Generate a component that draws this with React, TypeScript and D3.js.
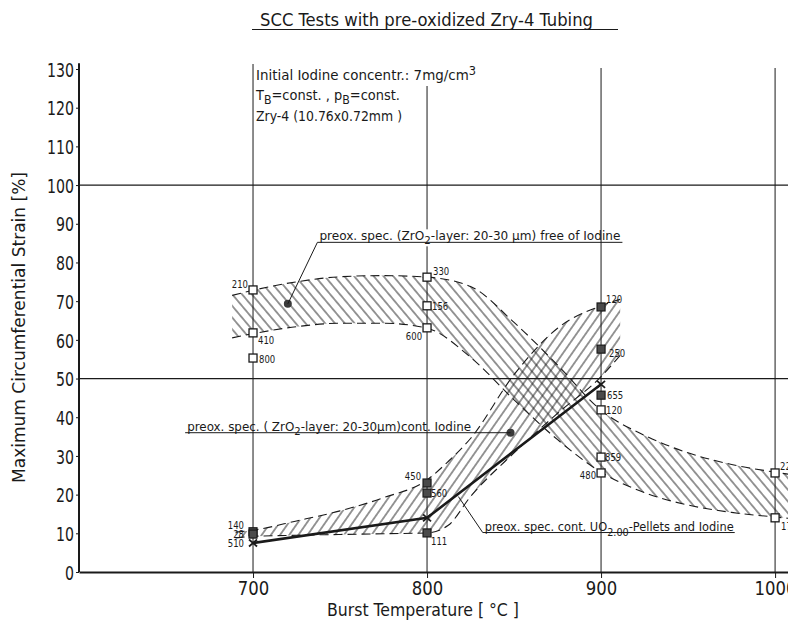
import * as d3 from "d3"
import { useEffect, useRef } from "react"

const W = 788
const H = 625

// open squares: pre-oxidized specimens, free of iodine (label = time to burst)
const freeTemp = [700, 700, 700, 800, 800, 800, 900, 900, 900, 1000, 1000]
const freeStrain = [72.9, 61.8, 55.3, 76.2, 68.8, 63.1, 41.9, 29.7, 25.6, 25.6, 14]
const freeTime = ["210", "410", "800", "330", "156", "600", "120", "859", "480", "22", "17"]

// filled squares: pre-oxidized specimens containing iodine
const iodTemp = [700, 700, 800, 800, 800, 900, 900, 900]
const iodStrain = [10.4, 9.8, 23, 20.4, 10.1, 68.5, 57.6, 45.7]
const iodTime = ["140", "28", "450", "560", "111", "120", "250", "655"]

// crosses: UO2 pellets and iodine
const uoTemp = [700, 800, 900]
const uoStrain = [7.5, 14, 48.5]
const uoTime = ["510", "", ""]

// scatter band, free of iodine
const freeBandTemp = [688, 700, 725, 750, 775, 800, 825, 850, 875, 900, 925, 950, 975, 1000, 1012]
const freeBandUpper = [71.5, 72.8, 75, 76.3, 76.6, 76.2, 73.8, 64.5, 53.5, 41.8, 35.3, 30.8, 27.8, 25.8, 25]
const freeBandLower = [60.5, 61.6, 63.4, 64.3, 64.3, 63, 55.5, 44.5, 34.2, 25.8, 20.5, 17.3, 15.4, 14.2, 13.7]

// scatter band, containing iodine
const iodBandTemp = [690, 700, 725, 750, 775, 800, 812, 825, 850, 875, 900, 911]
const iodBandUpper = [10.3, 10.8, 13.2, 15.8, 19.2, 23.8, 28.5, 34.5, 51, 63, 68.8, 70.5]
const iodBandLower = [8.8, 9.2, 9.5, 9.7, 9.9, 10.1, 12, 19.5, 30.8, 41, 50.5, 56]

// marker points of the band notes
const freeNotePoint = [720, 69.3]
const iodNotePoint = [848, 36]

const yTicks = [0, 10, 20, 30, 40, 50, 60, 70, 80, 90, 100, 110, 120, 130]
const xTicks = [700, 800, 900, 1000]
const hLines = [100, 50]

// label offsets (dx, dy, anchor), kept apart from the data
const freeLabelPos: [number, number, string][] = [
  [-5, -2, "end"], [5, 11, "start"], [6, 5, "start"], [6, -2, "start"], [5, 4, "start"],
  [-5, 12, "end"], [5, 4, "start"], [4, 4, "start"], [-5, 6, "end"], [5, -3, "start"], [6, 12, "start"],
]
const iodLabelPos: [number, number, string][] = [
  [-9, -3, "end"], [-9, 4, "end"], [-6, -3, "end"], [4, 4, "start"], [4, 12, "start"],
  [5, -4, "start"], [8, 8, "start"], [6, 4, "start"],
]
const uoLabelPos: [number, number, string][] = [[-9, 4, "end"], [0, 0, "start"], [0, 0, "start"]]

type Part = { t: string; shift?: number }

const Chart = () => {
  const ref = useRef<SVGSVGElement>(null)

  useEffect(() => {
    const svg = d3.select(ref.current)
    svg.selectAll("*").remove()

    const font = "'Liberation Sans Narrow', 'DejaVu Sans Condensed', 'DejaVu Sans', sans-serif"
    const ink = "#1a1a1a"

    const x = d3.scaleLinear().domain([600, 1008]).range([79, 789])
    const y = d3.scaleLinear().domain([0, 130]).range([572, 69])

    svg.attr("width", W).attr("height", H).style("font-family", font)
    svg.append("rect").attr("width", W).attr("height", H).attr("fill", "#fff")

    const defs = svg.append("defs")
    const hatch = (id: string, angle: number) => {
      const p = defs
        .append("pattern")
        .attr("id", id)
        .attr("patternUnits", "userSpaceOnUse")
        .attr("width", 7.5)
        .attr("height", 7.5)
        .attr("patternTransform", `rotate(${angle})`)
      p.append("line")
        .attr("x1", 3.75)
        .attr("y1", 0)
        .attr("x2", 3.75)
        .attr("y2", 7.5)
        .attr("stroke", ink)
        .attr("stroke-width", 0.9)
    }
    hatch("hatchFree", -40)
    hatch("hatchIod", 35)

    const addText = (parts: Part[], px: number, py: number, size: number, len?: number) => {
      const t = svg
        .append("text")
        .attr("x", px)
        .attr("y", py)
        .attr("font-size", size)
        .attr("fill", ink)
      let cur = 0
      parts.forEach((p) => {
        const s = p.shift ?? 0
        t.append("tspan")
          .attr("dy", s - cur)
          .attr("font-size", s ? size * 0.85 : size)
          .text(p.t)
        cur = s
      })
      if (len) t.attr("textLength", len).attr("lengthAdjust", "spacingAndGlyphs")
      return t
    }
    const rule = (x1: number, y1: number, x2: number, y2: number, w = 1) =>
      svg
        .append("line")
        .attr("x1", x1)
        .attr("y1", y1)
        .attr("x2", x2)
        .attr("y2", y2)
        .attr("stroke", ink)
        .attr("stroke-width", w)

    // grid
    const gridTop: Record<number, number> = { 700: 64, 800: 86, 900: 68, 1000: 68 }
    xTicks.forEach((t) => rule(x(t), gridTop[t], x(t), y(0), 1))
    hLines.forEach((v) => rule(x(600), y(v), W, y(v), 1.2))

    // bands
    const area = (temps: number[], up: number[], lo: number[]) =>
      d3
        .area<number>()
        .x((d) => x(d))
        .y0((_, i) => y(lo[i]))
        .y1((_, i) => y(up[i]))
        .curve(d3.curveMonotoneX)(temps)
    const edge = (temps: number[], vals: number[]) =>
      d3
        .line<number>()
        .x((d) => x(d))
        .y((_, i) => y(vals[i]))
        .curve(d3.curveMonotoneX)(temps)

    svg.append("path").attr("d", area(freeBandTemp, freeBandUpper, freeBandLower)).attr("fill", "url(#hatchFree)")
    svg.append("path").attr("d", area(iodBandTemp, iodBandUpper, iodBandLower)).attr("fill", "url(#hatchIod)")
    ;[
      edge(freeBandTemp, freeBandUpper),
      edge(freeBandTemp, freeBandLower),
      edge(iodBandTemp, iodBandUpper),
      edge(iodBandTemp, iodBandLower),
    ].forEach((d) =>
      svg
        .append("path")
        .attr("d", d)
        .attr("fill", "none")
        .attr("stroke", ink)
        .attr("stroke-width", 1.1)
        .attr("stroke-dasharray", "9 5")
    )

    // UO2 line
    svg
      .append("path")
      .attr(
        "d",
        d3
          .line<number>()
          .x((d) => x(d))
          .y((_, i) => y(uoStrain[i]))(uoTemp)
      )
      .attr("fill", "none")
      .attr("stroke", ink)
      .attr("stroke-width", 2.6)

    const ptLabel = (px: number, py: number, pos: [number, number, string], s: string) => {
      if (!s) return
      svg
        .append("text")
        .attr("x", px + pos[0])
        .attr("y", py + pos[1])
        .attr("text-anchor", pos[2])
        .attr("font-size", 11)
        .attr("fill", ink)
        .attr("textLength", s.length * 5.4)
        .attr("lengthAdjust", "spacingAndGlyphs")
        .text(s)
    }

    // open squares
    freeTemp.forEach((t, i) => {
      const px = x(t)
      const py = y(freeStrain[i])
      svg
        .append("rect")
        .attr("x", px - 4)
        .attr("y", py - 4)
        .attr("width", 8)
        .attr("height", 8)
        .attr("fill", "#fff")
        .attr("stroke", ink)
        .attr("stroke-width", 1.3)
      ptLabel(px, py, freeLabelPos[i], freeTime[i])
    })

    // filled squares
    iodTemp.forEach((t, i) => {
      const px = x(t)
      const py = y(iodStrain[i])
      svg
        .append("rect")
        .attr("x", px - 4)
        .attr("y", py - 4)
        .attr("width", 8)
        .attr("height", 8)
        .attr("fill", "#4a4a4a")
        .attr("stroke", ink)
        .attr("stroke-width", 1.2)
      ptLabel(px, py, iodLabelPos[i], iodTime[i])
    })

    // crosses
    uoTemp.forEach((t, i) => {
      const px = x(t)
      const py = y(uoStrain[i])
      rule(px - 4, py - 3.5, px + 4, py + 3.5, 1.8)
      rule(px - 4, py + 3.5, px + 4, py - 3.5, 1.8)
      ptLabel(px, py, uoLabelPos[i], uoTime[i])
    })

    // band notes
    const fc = [x(freeNotePoint[0]), y(freeNotePoint[1])]
    svg.append("circle").attr("cx", fc[0]).attr("cy", fc[1]).attr("r", 4).attr("fill", "#3a3a3a")
    const fx = x(737)
    const fy = y(85.2)
    svg.append("rect").attr("x", x(800) - 4).attr("y", fy - 13).attr("width", 8).attr("height", 17).attr("fill", "#fff")
    rule(fc[0], fc[1], fx, fy, 1)
    rule(fx, fy, fx + 305, fy, 1)
    addText(
      [{ t: "preox. spec. (ZrO" }, { t: "2", shift: 4 }, { t: "-layer: 20-30 µm) free of Iodine" }],
      fx + 2,
      fy - 2,
      12.5,
      301
    )

    const ic = [x(iodNotePoint[0]), y(iodNotePoint[1])]
    svg.append("circle").attr("cx", ic[0]).attr("cy", ic[1]).attr("r", 4).attr("fill", "#3a3a3a")
    const ix = x(661)
    rule(ix, ic[1], ic[0], ic[1], 1)
    addText(
      [{ t: "preox. spec. ( ZrO" }, { t: "2", shift: 4 }, { t: "-layer: 20-30µm)cont. Iodine" }],
      ix + 2,
      ic[1] - 2,
      12.5,
      284
    )

    const ux = x(832)
    const uy = y(10.2)
    rule(ux, uy, x(818), y(19.5), 1)
    rule(ux, uy, ux + 252, uy, 1)
    addText(
      [{ t: "preox. spec. cont. UO" }, { t: "2.00", shift: 5 }, { t: "-Pellets and Iodine", shift: 0 }],
      ux + 2,
      uy - 2,
      12.5,
      249
    )

    // header notes
    addText([{ t: "SCC Tests with pre-oxidized Zry-4 Tubing" }], 260, 26, 17, 333)
    rule(252, 29.5, 618, 29.5, 1.2)
    addText([{ t: "Initial Iodine concentr.: 7mg/cm" }, { t: "3", shift: -5 }], 256, 80, 13.5, 220)
    addText(
      [{ t: "T" }, { t: "B", shift: 4 }, { t: "=const. , p", shift: 0 }, { t: "B", shift: 4 }, { t: "=const.", shift: 0 }],
      256,
      100,
      13.5,
      144
    )
    addText([{ t: "Zry-4 (10.76x0.72mm )" }], 256, 121, 13.5, 146)

    // axes
    const yAxis = svg
      .append("g")
      .attr("transform", `translate(${x(600)},0)`)
      .call(d3.axisLeft(y).tickValues(yTicks).tickSize(3).tickSizeOuter(0).tickPadding(2))
    yAxis.select(".domain").attr("stroke", ink).attr("stroke-width", 2).attr("d", `M0,${y(0)}V${y(131.5)}`)
    yAxis.selectAll("line").attr("stroke", ink)
    yAxis
      .selectAll<SVGTextElement, number>("text")
      .attr("font-size", 20)
      .attr("font-family", font)
      .attr("fill", ink)
      .attr("dy", "0.36em")
      .attr("textLength", (d) => String(d).length * 9)
      .attr("lengthAdjust", "spacingAndGlyphs")

    const xAxis = svg
      .append("g")
      .attr("transform", `translate(0,${y(0)})`)
      .call(d3.axisBottom(x).tickValues(xTicks).tickSize(6).tickSizeOuter(0).tickFormat(d3.format("d")))
    xAxis.select(".domain").attr("stroke", ink).attr("stroke-width", 2.2)
    xAxis.selectAll("line").attr("stroke", ink)
    xAxis
      .selectAll<SVGTextElement, number>("text")
      .attr("font-size", 20)
      .attr("font-family", font)
      .attr("fill", ink)
      .attr("y", 23)
      .attr("dy", null)
      .attr("textLength", (d) => String(d).length * 10.5)
      .attr("lengthAdjust", "spacingAndGlyphs")

    addText([{ t: "Burst Temperature [ °C ]" }], 327, 616, 17.5, 192)
    addText([{ t: "Maximum Circumferential Strain [%]" }], 0, 0, 17.5, 311).attr(
      "transform",
      `translate(25,483) rotate(-90)`
    )
  }, [])

  return <svg ref={ref} style={{ position: "absolute", left: 0, top: 0, display: "block" }} />
}

export default function App() {
  return <Chart />
}
